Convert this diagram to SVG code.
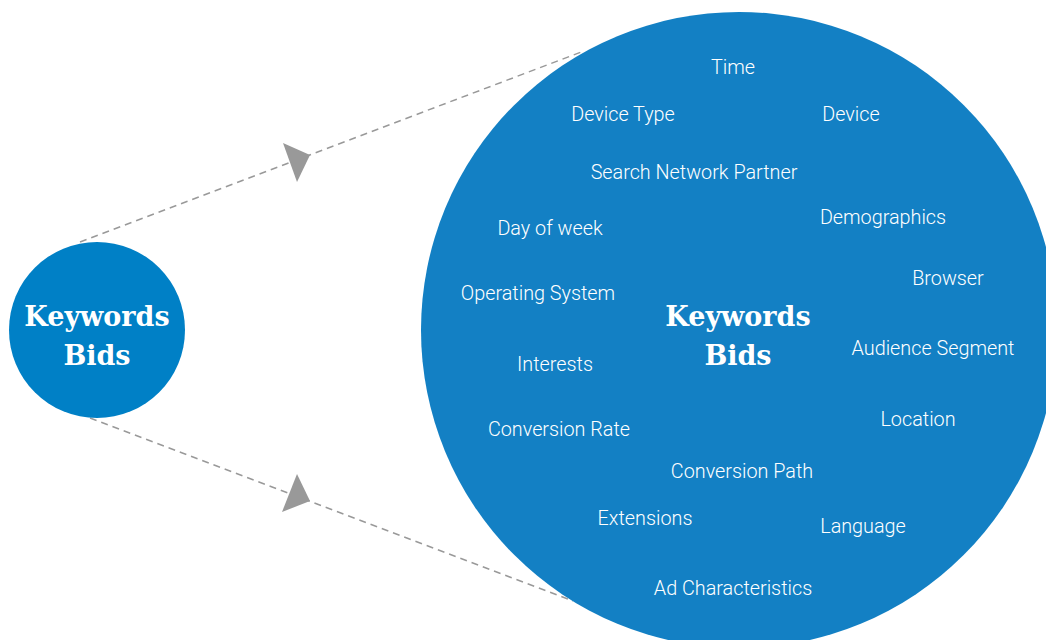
<svg xmlns="http://www.w3.org/2000/svg" width="1046" height="640" viewBox="0 0 1046 640">
<style>
.lbl{font-family:Roboto,"Liberation Sans",sans-serif;font-weight:300;font-size:19.8px;fill:#ffffff;text-anchor:middle}
.ttl{font-family:"DejaVu Serif","Liberation Serif",serif;font-weight:bold;font-size:27px;fill:#ffffff;text-anchor:middle}
.dash{stroke:#999999;stroke-width:1.5;stroke-dasharray:7 5;fill:none}
.head{fill:#999999}
</style>
<rect width="1046" height="640" fill="#ffffff"/>
<g id="connectors">
<line class="dash" x1="80" y1="242" x2="584" y2="51"/>
<line class="dash" x1="90" y1="418" x2="573" y2="601"/>
<polygon class="head" points="283,143 310,155 297,182"/>
<polygon class="head" points="297,474 310,501 282,512"/>
</g>
<g id="node-small">
<circle cx="97" cy="330" r="88" fill="#0080C6"/>
<text class="ttl" x="97" y="326">Keywords</text>
<text class="ttl" x="97" y="365">Bids</text>
</g>
<g id="node-big">
<circle cx="739" cy="330" r="318" fill="#1380C4"/>
<text class="ttl" x="738" y="326">Keywords</text>
<text class="ttl" x="738" y="365">Bids</text>
<text class="lbl" x="733" y="74">Time</text>
<text class="lbl" x="623" y="121">Device Type</text>
<text class="lbl" x="851" y="121">Device</text>
<text class="lbl" x="694" y="179">Search Network Partner</text>
<text class="lbl" x="883" y="224">Demographics</text>
<text class="lbl" x="550" y="235">Day of week</text>
<text class="lbl" x="948" y="285">Browser</text>
<text class="lbl" x="538" y="300">Operating System</text>
<text class="lbl" x="933" y="355">Audience Segment</text>
<text class="lbl" x="555" y="371">Interests</text>
<text class="lbl" x="918" y="426">Location</text>
<text class="lbl" x="559" y="436">Conversion Rate</text>
<text class="lbl" x="742" y="478">Conversion Path</text>
<text class="lbl" x="645" y="525">Extensions</text>
<text class="lbl" x="863" y="533">Language</text>
<text class="lbl" x="733" y="595">Ad Characteristics</text>
</g>
</svg>
